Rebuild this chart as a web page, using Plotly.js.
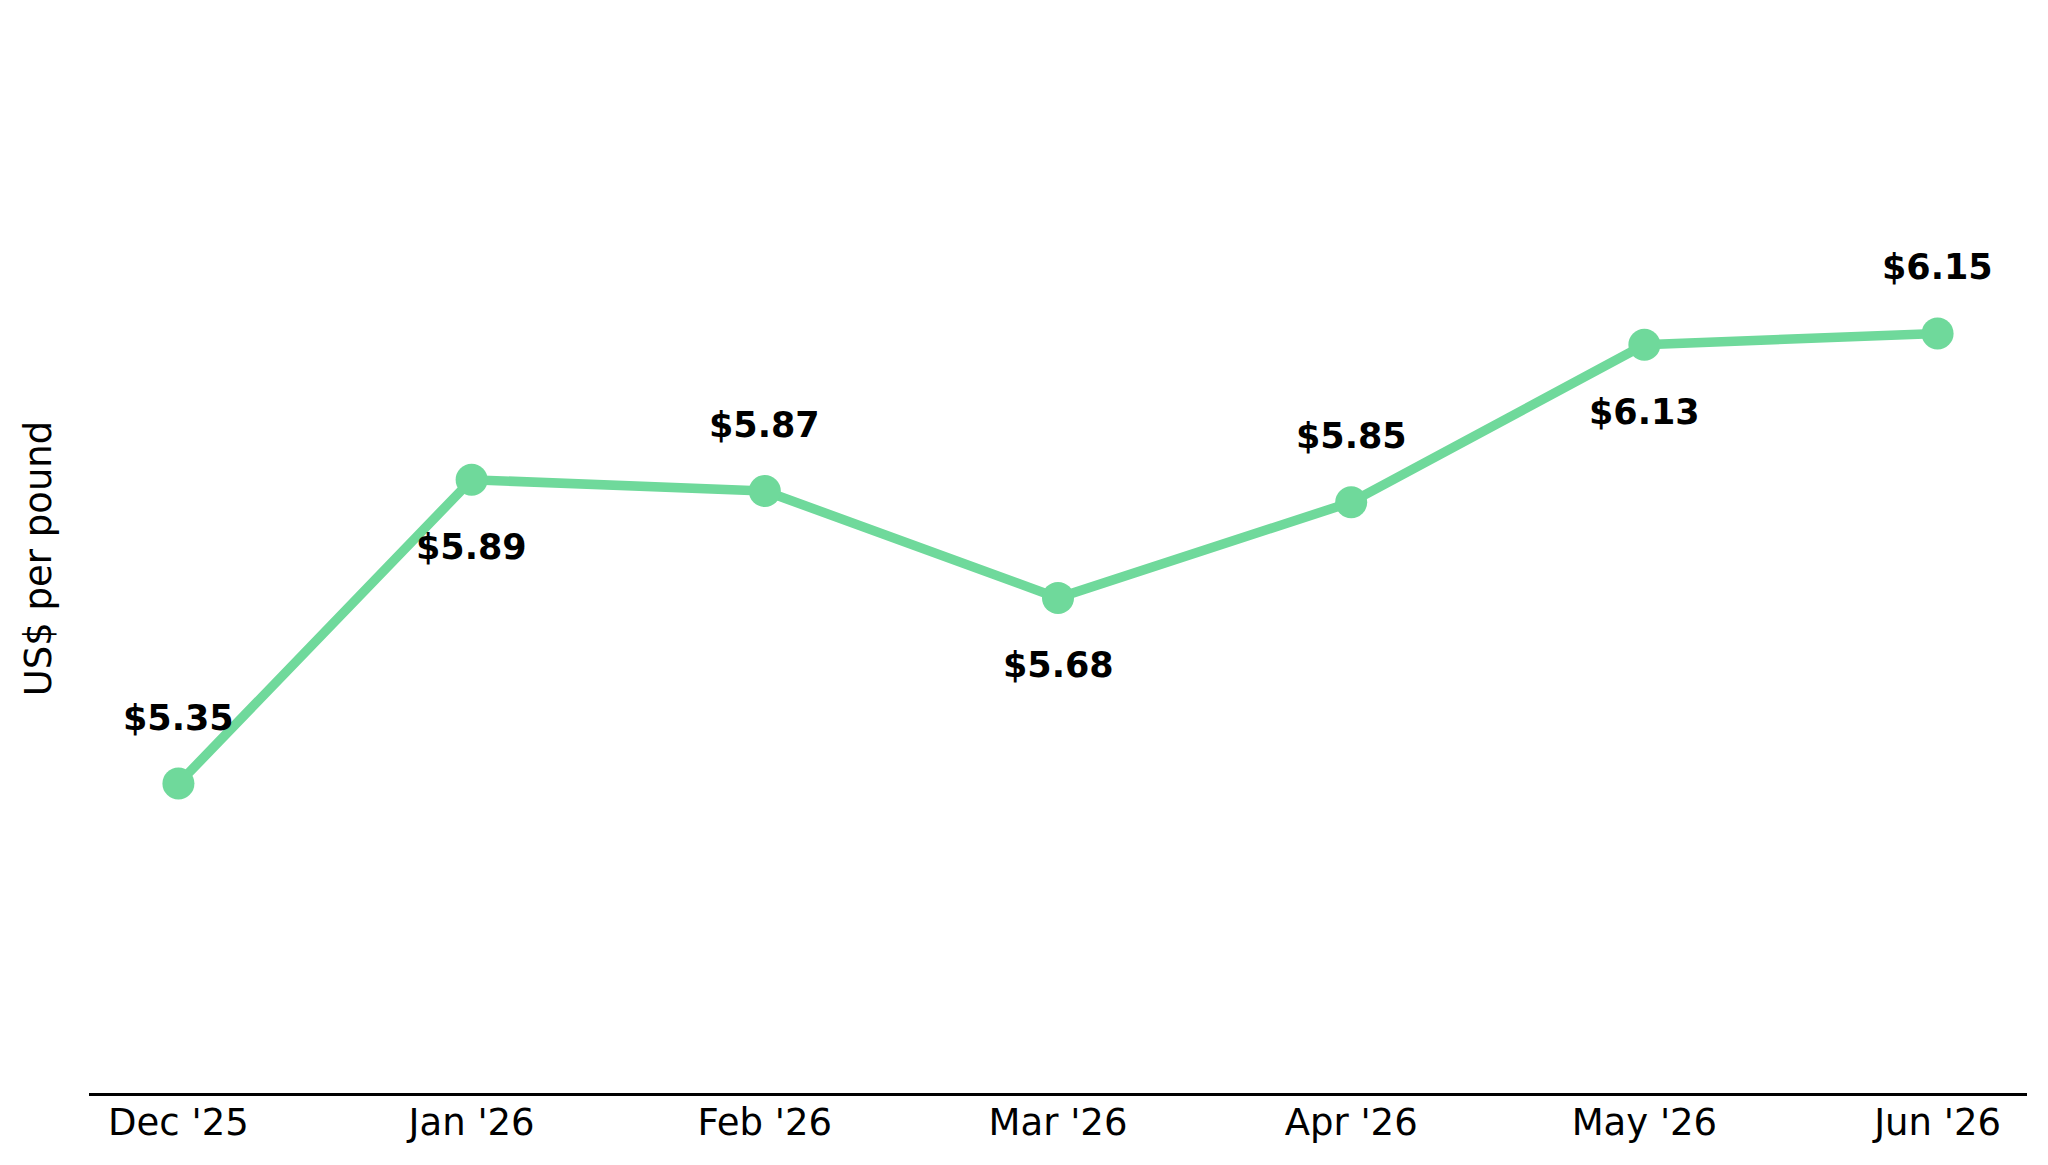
<!DOCTYPE html>
<html>
<head>
<meta charset="utf-8">
<script src="https://cdn.plot.ly/plotly-3.0.1.min.js"></script>
<style>
  html, body { margin: 0; padding: 0; background: #ffffff; }
  #chart { width: 2048px; height: 1165px; }
</style>
</head>
<body>
<div id="chart"></div>
<script>
const months = ["Dec '25", "Jan '26", "Feb '26", "Mar '26", "Apr '26", "May '26", "Jun '26"];
const prices = [5.35, 5.89, 5.87, 5.68, 5.85, 6.13, 6.15];
const labelSide = ["above", "below", "above", "below", "above", "below", "above"];

const xIdx = months.map((m, i) => i);

const trace = {
  x: xIdx,
  y: prices,
  type: 'scatter',
  mode: 'lines+markers',
  line: { color: '#6fd99b', width: 9.5 },
  marker: { color: '#6fd99b', size: 32 },
  hoverinfo: 'skip',
  showlegend: false
};

const annotations = prices.map((v, i) => ({
  x: i,
  y: v,
  xref: 'x',
  yref: 'y',
  text: '$' + v.toFixed(2),
  showarrow: false,
  xanchor: 'center',
  yanchor: 'middle',
  yshift: labelSide[i] === 'above' ? 66 : -67,
  font: { family: 'DejaVu Sans', size: 35, color: '#000000', weight: 'bold' }
}));

const layout = {
  width: 2048,
  height: 1165,
  paper_bgcolor: '#ffffff',
  plot_bgcolor: '#ffffff',
  margin: { l: 89, r: 21, t: 24, b: 72, pad: 0 },
  font: { family: 'DejaVu Sans', color: '#000000' },
  xaxis: {
    range: [-0.305, 6.305],
    tickmode: 'array',
    tickvals: xIdx,
    ticktext: months,
    showgrid: false,
    zeroline: false,
    showline: true,
    linecolor: '#000000',
    linewidth: 3,
    ticks: '',
    ticklabelstandoff: -5,
    tickfont: { family: 'DejaVu Sans', size: 37, color: '#000000' },
    fixedrange: true
  },
  yaxis: {
    range: [4.8, 6.7],
    showgrid: false,
    zeroline: false,
    showline: false,
    showticklabels: false,
    ticks: '',
    title: { text: 'US$ per pound', standoff: 25, font: { family: 'DejaVu Sans', size: 37, color: '#000000' } },
    automargin: false,
    fixedrange: true
  },
  annotations: annotations
};

Plotly.newPlot('chart', [trace], layout, { displayModeBar: false, staticPlot: true });
</script>
</body>
</html>
